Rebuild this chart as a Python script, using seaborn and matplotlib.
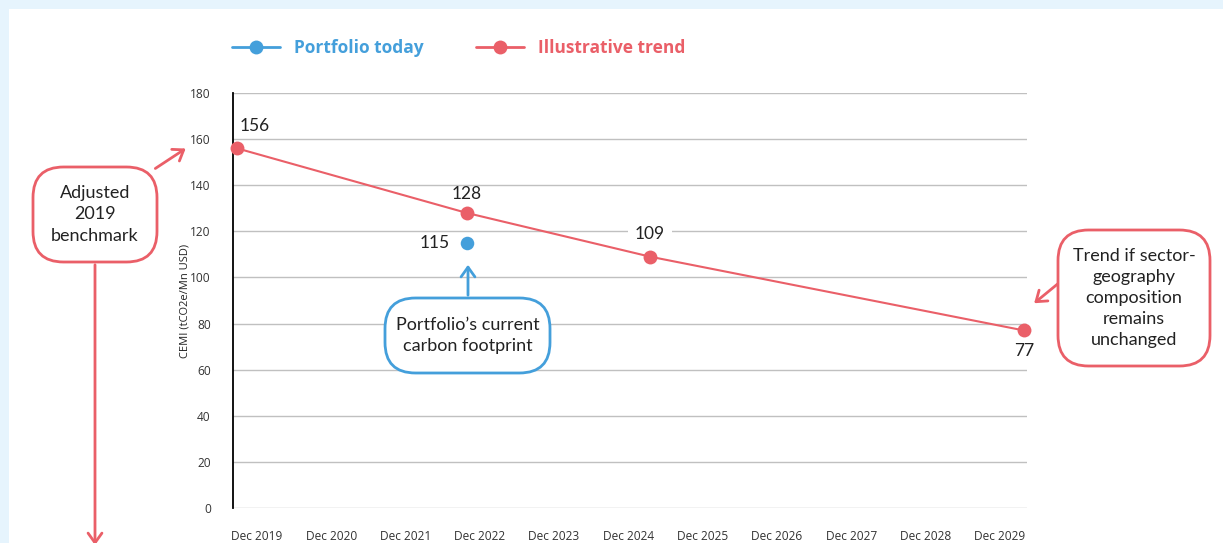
import matplotlib
matplotlib.use("Agg")
import matplotlib.pyplot as plt
import seaborn as sns
import numpy as np
import pandas as pd
from matplotlib.lines import Line2D
from matplotlib.patches import FancyBboxPatch, Rectangle

# data
trend_dates = [2019.958, 2022.875, 2025.208, 2029.958]   # Dec 2019, Nov 2022, Mar 2025, Dec 2029
trend_values = [156, 128, 109, 77]
today_dates = [2022.875]
today_values = [115]
tick_labels = ["Dec 2019", "Dec 2020", "Dec 2021", "Dec 2022", "Dec 2023", "Dec 2024",
               "Dec 2025", "Dec 2026", "Dec 2027", "Dec 2028", "Dec 2029"]

RED = "#ea5f68"
BLUE = "#449fdb"
W, H = 1223, 543

sns.set_theme(style="white")
plt.rcParams["font.family"] = ["Open Sans", "DejaVu Sans"]

fig = plt.figure(figsize=(W / 100, H / 100), dpi=100)
fig.patch.set_facecolor("#e6f4fd")
fig.add_artist(Rectangle((9 / W, 0), 1, 1 - 9 / H, transform=fig.transFigure,
                         facecolor="white", edgecolor="none", zorder=-10))

ax = fig.add_axes([233 / W, 1 - 508 / H, (1027 - 233) / W, (508 - 93) / H])
ax.set_facecolor("none")

trend = pd.DataFrame({"date": trend_dates, "value": trend_values})
today = pd.DataFrame({"date": today_dates, "value": today_values})

sns.lineplot(data=trend, x="date", y="value", color=RED, lw=1.5, marker="o",
             markersize=10, markeredgewidth=0, ax=ax, zorder=3, clip_on=False)
sns.scatterplot(data=today, x="date", y="value", color=BLUE, s=95, linewidth=0,
                ax=ax, zorder=3)

ax.set_xlim(2019.907, 2029.996)
ax.set_ylim(0, 180)
ax.set_yticks(np.arange(0, 181, 20))
ax.set_xticks(np.linspace(2020.21, 2029.65, len(tick_labels)))
ax.set_xticklabels(tick_labels)
ax.tick_params(axis="both", length=0, labelsize=8.6, colors="#333333")
ax.tick_params(axis="y", pad=16)
ax.tick_params(axis="x", pad=16)
ax.grid(axis="y", color="#c0c0c0", lw=1)
ax.grid(axis="x", visible=False)
for s in ["top", "right", "bottom"]:
    ax.spines[s].set_visible(False)
ax.spines["left"].set_color("black")
ax.spines["left"].set_linewidth(1.3)
ax.set_xlabel("")
ax.set_ylabel("CEMI (tCO2e/Mn USD)", fontsize=8, color="#222222", labelpad=0)

# value labels
lab = dict(textcoords="offset pixels", fontsize=12.5, color="#222222", family=["Lato", "DejaVu Sans"])
ax.annotate(str(trend_values[0]), (trend_dates[0], trend_values[0]), xytext=(3, 22),
            ha="left", va="center", **lab)
ax.annotate(str(trend_values[1]), (trend_dates[1], trend_values[1]), xytext=(0, 19),
            ha="center", va="center", **lab)
ax.annotate(str(trend_values[2]), (trend_dates[2], trend_values[2]), xytext=(0, 23),
            ha="center", va="center",
            bbox=dict(facecolor="white", edgecolor="none", pad=5), **lab)
ax.annotate(str(trend_values[3]), (trend_dates[3], trend_values[3]), xytext=(0, -21),
            ha="center", va="center", **lab)
ax.annotate(str(today_values[0]), (today_dates[0], today_values[0]), xytext=(-17, 0),
            ha="right", va="center", **lab)

# legend
handles = [Line2D([], [], color=BLUE, lw=2, marker="o", markersize=10, markeredgewidth=0),
           Line2D([], [], color=RED, lw=2, marker="o", markersize=10, markeredgewidth=0)]
leg = fig.legend(handles, ["Portfolio today", "Illustrative trend"], loc="center left",
                 bbox_to_anchor=(216 / W, 1 - 48 / H), ncol=2, frameon=False,
                 handlelength=2.8, columnspacing=3.0, handletextpad=0.8,
                 prop={"family": "Open Sans", "weight": "bold", "size": 12.5})
for t, c in zip(leg.get_texts(), [BLUE, RED]):
    t.set_color(c)


def fpt(x, y):
    return (x / W, 1 - y / H)


def callout(x0, y0, x1, y1, text, color):
    box = FancyBboxPatch(fpt(x0, y1), (x1 - x0) / W, (y1 - y0) / H,
                         boxstyle="round,pad=0,rounding_size=0.025",
                         transform=fig.transFigure, facecolor="white",
                         edgecolor=color, lw=2, mutation_aspect=W / H, zorder=5)
    fig.add_artist(box)
    fig.text((x0 + x1) / 2 / W, 1 - (y0 + y1) / 2 / H, text, ha="center", va="center",
             fontsize=13, color="#222222", family=["Lato", "DejaVu Sans"],
             linespacing=1.4, zorder=6)


def arrow(xa, ya, xb, yb, color):
    fig.add_artist(matplotlib.patches.FancyArrowPatch(
        fpt(xa, ya), fpt(xb, yb), transform=fig.transFigure,
        arrowstyle="->,head_length=7,head_width=5", color=color, lw=2, zorder=4))


callout(33, 167, 157, 262, "Adjusted\n2019\nbenchmark", RED)
arrow(153, 170, 188, 147, RED)
arrow(95, 262, 95, 548, RED)

callout(385, 298, 550, 373, "Portfolio\u2019s current\ncarbon footprint", BLUE)
arrow(468, 298, 468, 262, BLUE)

callout(1058, 230, 1210, 366, "Trend if sector-\ngeography\ncomposition\nremains\nunchanged", RED)
arrow(1060, 282, 1032, 305, RED)

fig.savefig("out.png", dpi=100)
